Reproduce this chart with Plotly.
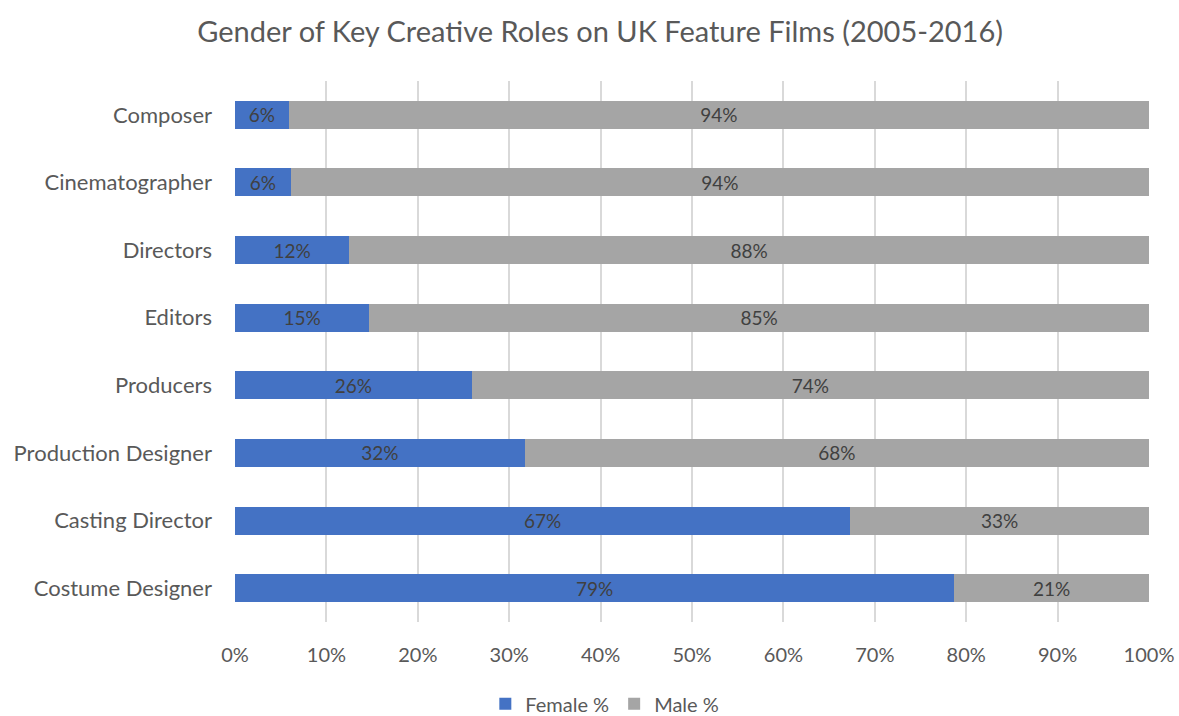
import plotly.graph_objects as go

roles = ["Composer", "Cinematographer", "Directors", "Editors", "Producers",
         "Production Designer", "Casting Director", "Costume Designer"]
female = [5.9, 6.1, 12.5, 14.7, 25.9, 31.7, 67.3, 78.7]
male = [94.1, 93.9, 87.5, 85.3, 74.1, 68.3, 32.7, 21.3]
female_lbl = ["6%", "6%", "12%", "15%", "26%", "32%", "67%", "79%"]
male_lbl = ["94%", "94%", "88%", "85%", "74%", "68%", "33%", "21%"]
ticks = [0, 10, 20, 30, 40, 50, 60, 70, 80, 90, 100]
tick_lbl = [f"{t}%" for t in ticks]

FONT = "Lato, Open Sans, sans-serif"

fig = go.Figure()
fig.add_trace(go.Bar(y=roles, x=female, orientation="h", name="Female %",
                     marker=dict(color="#4472C4", line=dict(width=0)),
                     text=female_lbl, textposition="inside", insidetextanchor="middle",
                     textangle=0, constraintext="none",
                     textfont=dict(color="#404040", size=19, family=FONT),
                     hoverinfo="x+y"))
fig.add_trace(go.Bar(y=roles, x=male, orientation="h", name="Male %",
                     marker=dict(color="#A5A5A5", line=dict(width=0)),
                     text=male_lbl, textposition="inside", insidetextanchor="middle",
                     textangle=0, constraintext="none",
                     textfont=dict(color="#404040", size=19, family=FONT),
                     hoverinfo="x+y"))

fig.update_layout(
    barmode="stack",
    bargap=0.585,
    width=1179, height=716,
    margin=dict(l=235, r=30, t=81, b=94, autoexpand=False),
    paper_bgcolor="white", plot_bgcolor="white",
    font=dict(family=FONT, color="#595959", size=22),
    title=dict(text="Gender of Key Creative Roles on UK Feature Films (2005-2016)",
               x=0.509, xanchor="center", y=0.955, yanchor="middle",
               font=dict(size=29, color="#595959", family=FONT)),
    xaxis=dict(range=[0, 100], tickvals=ticks, ticktext=tick_lbl,
               showgrid=True, gridcolor="#D9D9D9", gridwidth=2,
               zeroline=False, showline=False, ticks="", automargin=False,
               tickfont=dict(size=20, color="#595959"), ticklabelstandoff=19,
               fixedrange=True),
    yaxis=dict(categoryorder="array", categoryarray=roles[::-1],
               showgrid=False, zeroline=False, showline=False, ticks="", automargin=False,
               tickfont=dict(size=22, color="#595959"), ticklabelstandoff=22),
    legend=dict(orientation="h", xref="container", yref="paper",
                x=0.513, xanchor="center", y=-0.151, yanchor="middle",
                font=dict(size=20, color="#595959"), traceorder="normal",
                itemwidth=30),
    showlegend=True,
)

fig.write_html("out.html",
               config={"displayModeBar": False},
               post_script="document.body.style.margin='0';document.body.style.overflow='hidden';document.documentElement.style.overflow='hidden';")
